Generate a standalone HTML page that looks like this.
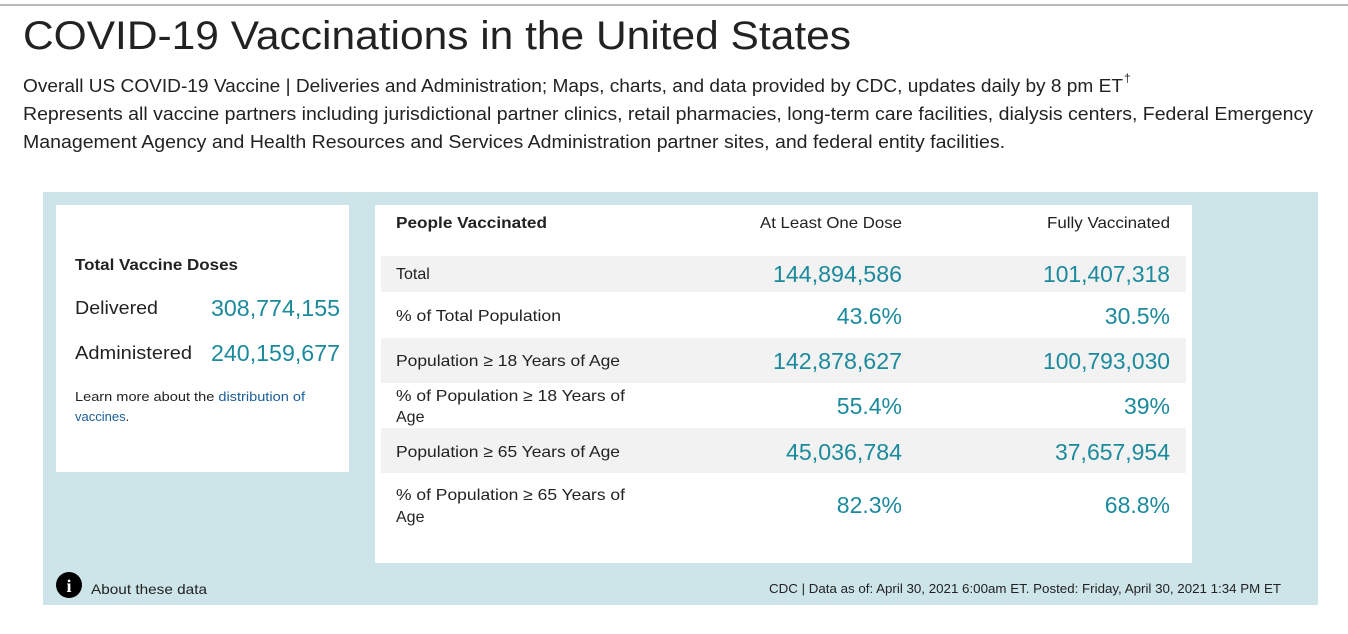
<!DOCTYPE html>
<html><head><meta charset="utf-8"><style>
html,body{margin:0;padding:0;background:#fff;}
svg{display:block;font-family:"Liberation Sans",sans-serif;}
.t{fill:#222}.n{fill:#1b8a9c}
</style></head><body>
<svg width="1348" height="634" viewBox="0 0 1348 634">
<rect x="0" y="0" width="1348" height="634" fill="#fff"/>
<rect x="0" y="4" width="1348" height="2" fill="#b8b8b8"/>
<text class="t" x="23" y="49" font-size="40" textLength="828" lengthAdjust="spacingAndGlyphs">COVID-19 Vaccinations in the United States</text>
<text class="t" x="23" y="92" font-size="18" textLength="1100" lengthAdjust="spacingAndGlyphs">Overall US COVID-19 Vaccine | Deliveries and Administration; Maps, charts, and data provided by CDC, updates daily by 8 pm ET</text>
<text class="t" x="1124" y="82" font-size="12">†</text>
<text class="t" x="23" y="120" font-size="18" textLength="1290" lengthAdjust="spacingAndGlyphs">Represents all vaccine partners including jurisdictional partner clinics, retail pharmacies, long-term care facilities, dialysis centers, Federal Emergency</text>
<text class="t" x="23" y="148" font-size="18" textLength="982" lengthAdjust="spacingAndGlyphs">Management Agency and Health Resources and Services Administration partner sites, and federal entity facilities.</text>
<rect x="43" y="192" width="1275" height="413" fill="#cde5e8"/>
<rect x="56" y="205" width="293" height="267" fill="#fff"/>
<rect x="375" y="205" width="817" height="358" fill="#fff"/>
<rect x="381" y="256" width="805" height="36" fill="#f2f2f2"/>
<rect x="381" y="338" width="805" height="45" fill="#f2f2f2"/>
<rect x="381" y="428" width="805" height="45" fill="#f2f2f2"/>
<text class="t" x="75" y="270" font-size="16" font-weight="bold" textLength="163" lengthAdjust="spacingAndGlyphs">Total Vaccine Doses</text>
<text class="t" x="75" y="314" font-size="18" textLength="83" lengthAdjust="spacingAndGlyphs">Delivered</text>
<text class="n" x="340" y="316" font-size="23" text-anchor="end" textLength="129" lengthAdjust="spacingAndGlyphs">308,774,155</text>
<text class="t" x="75" y="359" font-size="18" textLength="117" lengthAdjust="spacingAndGlyphs">Administered</text>
<text class="n" x="340" y="361" font-size="23" text-anchor="end" textLength="129" lengthAdjust="spacingAndGlyphs">240,159,677</text>
<text x="75" y="401" font-size="13" textLength="230" lengthAdjust="spacingAndGlyphs"><tspan class="t">Learn more about the </tspan><tspan fill="#1a5f9a">distribution of</tspan></text>
<text x="75" y="421" font-size="13" fill="#1a5f9a">vaccines<tspan class="t">.</tspan></text>
<text class="t" x="396" y="228" font-size="16" font-weight="bold" textLength="151" lengthAdjust="spacingAndGlyphs">People Vaccinated</text>
<text class="t" x="902" y="228" font-size="16" text-anchor="end" textLength="142" lengthAdjust="spacingAndGlyphs">At Least One Dose</text>
<text class="t" x="1170" y="228" font-size="16" text-anchor="end" textLength="123" lengthAdjust="spacingAndGlyphs">Fully Vaccinated</text>
<g font-size="16" class="t">
<text class="t" x="396" y="279">Total</text>
<text class="t" x="396" y="321" textLength="165" lengthAdjust="spacingAndGlyphs">% of Total Population</text>
<text class="t" x="396" y="366" textLength="224" lengthAdjust="spacingAndGlyphs">Population ≥ 18 Years of Age</text>
<text class="t" x="396" y="401" textLength="229" lengthAdjust="spacingAndGlyphs">% of Population ≥ 18 Years of</text>
<text class="t" x="396" y="422">Age</text>
<text class="t" x="396" y="457" textLength="224" lengthAdjust="spacingAndGlyphs">Population ≥ 65 Years of Age</text>
<text class="t" x="396" y="500" textLength="229" lengthAdjust="spacingAndGlyphs">% of Population ≥ 65 Years of</text>
<text class="t" x="396" y="522">Age</text>
</g>
<g font-size="23" text-anchor="end">
<text class="n" x="902" y="282" textLength="129" lengthAdjust="spacingAndGlyphs">144,894,586</text>
<text class="n" x="1170" y="282" textLength="127" lengthAdjust="spacingAndGlyphs">101,407,318</text>
<text class="n" x="902" y="324">43.6%</text>
<text class="n" x="1170" y="324">30.5%</text>
<text class="n" x="902" y="369" textLength="129" lengthAdjust="spacingAndGlyphs">142,878,627</text>
<text class="n" x="1170" y="369" textLength="127" lengthAdjust="spacingAndGlyphs">100,793,030</text>
<text class="n" x="902" y="414">55.4%</text>
<text class="n" x="1170" y="414">39%</text>
<text class="n" x="902" y="460" textLength="116" lengthAdjust="spacingAndGlyphs">45,036,784</text>
<text class="n" x="1170" y="460" textLength="115" lengthAdjust="spacingAndGlyphs">37,657,954</text>
<text class="n" x="902" y="513">82.3%</text>
<text class="n" x="1170" y="513">68.8%</text>
</g>
<circle cx="69" cy="585" r="13" fill="#000"/>
<text x="69" y="592" font-size="18" font-weight="bold" fill="#fff" text-anchor="middle" font-family="Liberation Serif,serif">i</text>
<text class="t" x="91" y="594" font-size="14" textLength="116" lengthAdjust="spacingAndGlyphs">About these data</text>
<text class="t" x="1281" y="593" font-size="13" text-anchor="end" textLength="512" lengthAdjust="spacingAndGlyphs">CDC | Data as of: April 30, 2021 6:00am ET. Posted: Friday, April 30, 2021 1:34 PM ET</text>
</svg>
</body></html>
